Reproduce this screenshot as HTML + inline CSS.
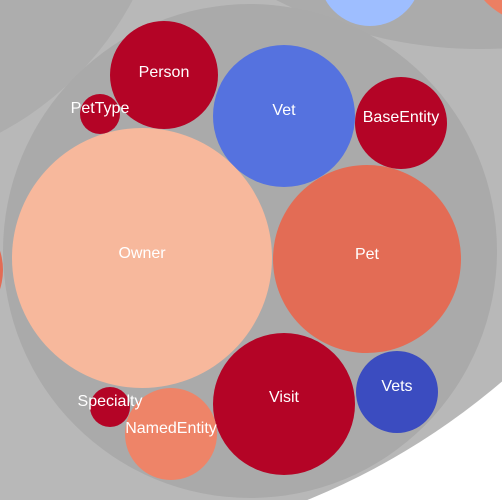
<!DOCTYPE html>
<html>
<head>
<meta charset="utf-8">
<style>
  html,body{margin:0;padding:0;background:#fff;width:502px;height:500px;overflow:hidden;}
  svg{display:block;overflow:hidden;}
  text{font-family:"Liberation Sans",Arial,sans-serif;font-size:16px;fill:#fff;text-anchor:middle;}
</style>
</head>
<body>
<svg id="chart" width="502" height="500" viewBox="0 0 502 500">
  <circle cx="37" cy="-163" r="716" fill="#b8b8b8"/>
  <circle cx="-150" cy="-150" r="320" fill="#adadad"/>
  <circle cx="480" cy="-400" r="449" fill="#ababab"/>
  <circle cx="370" cy="-25" r="51" fill="#9ebeff"/>
  <circle cx="535" cy="-45" r="68" fill="#ec7f63"/>
  <circle cx="250" cy="251" r="247" fill="#aaaaaa"/>
  <circle cx="-60" cy="270" r="63" fill="#e36c55"/>
  <g id="nodes"></g>
</svg>
<script>
// Node data (class names, relative size values, colour values)
var names = ["Person","PetType","Vet","BaseEntity","Owner","Pet","Visit","Vets","Specialty","NamedEntity"];
var sizes = [54,20,71,46,130,94,71,41,20,46];
var colors = ["#b40426","#b40426","#5572df","#b40426","#f7b89c","#e36c55","#b40426","#3b4cc0","#b40426","#ee8468"];
// layout centres from the packing (estimated)
var cxs = [164,100,284,401,142,367,284,397,110,171];
var cys = [75,114,116,123,258,259,404,392,407,434];
// label vertical offsets relative to node centre
var labelDy = [3,0,0,0,1,1,-1,0,0,0];

var g = document.getElementById('nodes');
var ns = 'http://www.w3.org/2000/svg';
function rScale(v){ return v; }
for (var i = 0; i < names.length; i++) {
  var c = document.createElementNS(ns, 'circle');
  c.setAttribute('cx', cxs[i]);
  c.setAttribute('cy', cys[i]);
  c.setAttribute('r', rScale(sizes[i]));
  c.setAttribute('fill', colors[i]);
  
  
  g.appendChild(c);
}
for (var j = 0; j < names.length; j++) {
  var t = document.createElementNS(ns, 'text');
  t.setAttribute('x', cxs[j]);
  t.setAttribute('y', cys[j] + labelDy[j] - 1);
  t.textContent = names[j];
  
  
  g.appendChild(t);
}
</script>
</body>
</html>
